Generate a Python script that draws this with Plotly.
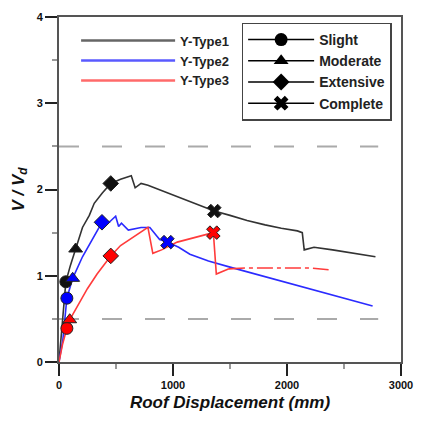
import plotly.graph_objects as go

# ---- data ----
t1_x = [0, 60, 100, 146, 206, 266, 309, 380, 454, 540, 600, 634, 668, 720, 780, 900, 1050, 1148, 1250, 1362, 1500, 1650, 1808, 1950, 2091, 2134, 2151, 2237, 2400, 2600, 2776]
t1_y = [0, 0.93, 1.12, 1.31, 1.56, 1.70, 1.84, 1.96, 2.07, 2.12, 2.15, 2.16, 2.02, 2.07, 2.05, 1.99, 1.91, 1.86, 1.81, 1.75, 1.70, 1.64, 1.59, 1.55, 1.52, 1.50, 1.30, 1.33, 1.30, 1.26, 1.22]

t2_x = [0, 34, 69, 94, 120, 206, 326, 377, 440, 497, 523, 548, 608, 720, 797, 883, 951, 1050, 1148, 1311, 1500, 1800, 2100, 2400, 2751]
t2_y = [0, 0.26, 0.74, 0.85, 0.97, 1.22, 1.51, 1.62, 1.62, 1.69, 1.57, 1.61, 1.53, 1.56, 1.56, 1.42, 1.39, 1.33, 1.25, 1.17, 1.10, 0.99, 0.88, 0.77, 0.65]

t3_x = [0, 30, 69, 94, 120, 163, 249, 334, 411, 454, 540, 677, 780, 823, 900, 1037, 1208, 1354, 1380, 1491]
t3_y = [0, 0.20, 0.39, 0.49, 0.55, 0.65, 0.85, 1.02, 1.16, 1.23, 1.35, 1.47, 1.56, 1.26, 1.30, 1.39, 1.45, 1.50, 1.02, 1.08]
t3_tail_x = [1491, 1637, 1900, 2200, 2365]
t3_tail_y = [1.08, 1.09, 1.09, 1.09, 1.07]

damage_states = ["Slight", "Moderate", "Extensive", "Complete"]
t1_dmg_x = [60, 146, 454, 1362]
t1_dmg_y = [0.93, 1.31, 2.07, 1.75]
t2_dmg_x = [69, 120, 377, 951]
t2_dmg_y = [0.74, 0.97, 1.62, 1.39]
t3_dmg_x = [69, 94, 454, 1354]
t3_dmg_y = [0.39, 0.49, 1.23, 1.50]

threshold_levels = [2.5, 0.5]
threshold_x_end = 2800

x_ticks = [0, 1000, 2000, 3000]
y_ticks = [0, 1, 2, 3, 4]

# ---- styles ----
symbols = ["circle", "triangle-up", "diamond", "x"]
series = [
    ("Y-Type1", t1_x, t1_y, t1_dmg_x, t1_dmg_y, "#333333", "#111111"),
    ("Y-Type2", t2_x, t2_y, t2_dmg_x, t2_dmg_y, "#2b2bff", "#0000ff"),
    ("Y-Type3", t3_x, t3_y, t3_dmg_x, t3_dmg_y, "#ff3b3b", "#ff0000"),
]
legend_line_colors = {"Y-Type1": "#666666", "Y-Type2": "#5a5aff", "Y-Type3": "#ff6a6a"}

fig = go.Figure()

for lvl in threshold_levels:
    fig.add_shape(type="line", x0=0, x1=threshold_x_end, y0=lvl, y1=lvl, xref="x", yref="y",
                  line=dict(color="#aaaaaa", width=2, dash="20px,23px"), layer="below")

for name, xs, ys, dx, dy, lc, mc in series:
    fig.add_trace(go.Scatter(x=xs, y=ys, mode="lines", line=dict(color=lc, width=1.6),
                             showlegend=False, hoverinfo="skip"))
    if name == "Y-Type3":
        fig.add_trace(go.Scatter(x=t3_tail_x, y=t3_tail_y, mode="lines",
                                 line=dict(color=lc, width=1.6, dash="16px,4px,4px,4px"),
                                 showlegend=False))

# legend 1: line samples
for name, xs, ys, dx, dy, lc, mc in series:
    fig.add_trace(go.Scatter(x=[None], y=[None], mode="lines", name=name,
                             line=dict(color=legend_line_colors[name], width=2.5), legend="legend"))

# damage markers
for name, xs, ys, dx, dy, lc, mc in series:
    for i, s in enumerate(damage_states):
        fig.add_trace(go.Scatter(x=[dx[i]], y=[dy[i]], mode="markers", showlegend=False,
                                 marker=dict(symbol=symbols[i], size=12, color=mc,
                                             line=dict(color="#222222", width=1))))

# legend 2: damage state markers
for i, s in enumerate(damage_states):
    fig.add_trace(go.Scatter(x=[None], y=[None], mode="lines+markers", name=s, legend="legend2",
                             line=dict(color="black", width=1.5),
                             marker=dict(symbol=symbols[i], size=13, color="black")))

axis_common = dict(showgrid=False, zeroline=False, showline=True, linecolor="#555555", linewidth=2,
                   mirror=True, ticks="outside", ticklen=12, tickwidth=2, tickcolor="#222222",
                   tickfont=dict(family="Liberation Sans", size=11, color="#111111", weight="bold"),
                   minor=dict(ticks="outside", ticklen=5, tickwidth=1.5, tickcolor="#999999"))

fig.update_xaxes(range=[0, 3000], tickvals=x_ticks, minor_dtick=500, **axis_common,
                 title=dict(text="Roof Displacement (mm)", standoff=6,
                            font=dict(family="Liberation Sans", size=17, color="#111111",
                                      weight="bold", style="italic")))
fig.update_yaxes(range=[0, 4], tickvals=y_ticks, minor_dtick=0.5, **axis_common,
                 title=dict(text="V / V<sub>d</sub>", standoff=8,
                            font=dict(family="Liberation Sans", size=17, color="#111111",
                                      weight="bold", style="italic")))

fig.update_layout(
    width=424, height=423,
    margin=dict(l=59, r=17, t=11, b=61),
    plot_bgcolor="white", paper_bgcolor="white",
    legend=dict(x=0.05, y=0.975, xanchor="left", yanchor="top", bgcolor="rgba(0,0,0,0)",
                itemwidth=94, tracegroupgap=0,
                font=dict(family="Liberation Sans", size=13, color="#222222", weight="bold")),
    legend2=dict(x=0.534, y=0.984, xanchor="left", yanchor="top", bgcolor="white",
                 bordercolor="#444444", borderwidth=1.5, itemwidth=66,
                 font=dict(family="Liberation Sans", size=14, color="#222222", weight="bold")),
)

fig.write_html("out.html")
